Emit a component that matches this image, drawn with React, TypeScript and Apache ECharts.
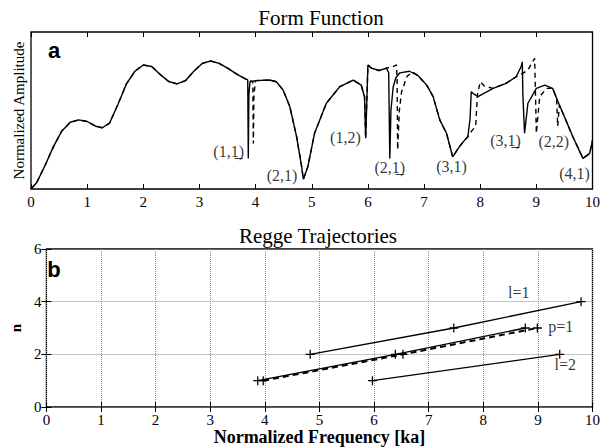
import React, { useEffect, useRef } from "react";
import * as echarts from "echarts";

// ---- Panel a: Form Function (solid = exact, dashed = approximation) ----
const solidX = [0, 0.1, 0.25, 0.4, 0.55, 0.7, 0.85, 1.0, 1.15, 1.27, 1.4, 1.55, 1.7, 1.85, 2.0, 2.15, 2.3, 2.45, 2.6, 2.75, 2.9, 3.05, 3.2, 3.35, 3.5, 3.65, 3.8, 3.86, 3.87, 3.88, 3.9, 4.0, 4.25, 4.37, 4.49, 4.61, 4.73, 4.82, 4.85, 4.93, 5.05, 5.26, 5.5, 5.74, 5.88, 5.94, 5.96, 5.98, 6.0, 6.06, 6.2, 6.33, 6.37, 6.39, 6.41, 6.45, 6.5, 6.57, 6.74, 6.9, 7.05, 7.16, 7.28, 7.4, 7.51, 7.63, 7.72, 7.78, 7.82, 7.84, 7.87, 7.96, 8.23, 8.46, 8.64, 8.73, 8.75, 8.76, 8.79, 8.85, 9.0, 9.15, 9.29, 9.41, 9.5, 9.65, 9.83, 9.95, 10];
const solidY = [0, 0.04, 0.15, 0.27, 0.37, 0.425, 0.44, 0.43, 0.4, 0.39, 0.42, 0.54, 0.67, 0.75, 0.79, 0.78, 0.73, 0.685, 0.67, 0.69, 0.75, 0.8, 0.815, 0.8, 0.77, 0.735, 0.705, 0.695, 0.195, 0.6, 0.683, 0.69, 0.694, 0.683, 0.63, 0.524, 0.333, 0.142, 0.062, 0.142, 0.355, 0.546, 0.652, 0.694, 0.662, 0.588, 0.323, 0.55, 0.79, 0.77, 0.755, 0.77, 0.74, 0.195, 0.5, 0.65, 0.71, 0.74, 0.75, 0.72, 0.66, 0.59, 0.44, 0.355, 0.205, 0.27, 0.31, 0.333, 0.45, 0.62, 0.61, 0.588, 0.641, 0.673, 0.715, 0.78, 0.81, 0.6, 0.355, 0.546, 0.641, 0.662, 0.641, 0.535, 0.46, 0.333, 0.195, 0.227, 0.31];

const dashedX = [0, 0.1, 0.25, 0.4, 0.55, 0.7, 0.85, 1.0, 1.15, 1.27, 1.4, 1.55, 1.7, 1.85, 2.0, 2.15, 2.3, 2.45, 2.6, 2.75, 2.9, 3.05, 3.2, 3.35, 3.5, 3.65, 3.8, 3.9, 3.95, 3.96, 3.97, 4.0, 4.25, 4.37, 4.49, 4.61, 4.73, 4.82, 4.85, 4.93, 5.05, 5.26, 5.5, 5.74, 5.88, 5.94, 5.96, 5.98, 6.0, 6.06, 6.2, 6.33, 6.45, 6.51, 6.52, 6.53, 6.56, 6.6, 6.7, 6.8, 6.9, 7.05, 7.16, 7.28, 7.4, 7.51, 7.63, 7.72, 7.78, 7.85, 7.92, 7.95, 8.0, 8.08, 8.23, 8.46, 8.64, 8.76, 8.85, 8.97, 9.0, 9.06, 9.18, 9.29, 9.36, 9.38, 9.41, 9.5, 9.65, 9.83, 9.95, 10];
const dashedY = [0, 0.04, 0.15, 0.27, 0.37, 0.425, 0.44, 0.43, 0.4, 0.39, 0.42, 0.54, 0.67, 0.75, 0.79, 0.78, 0.73, 0.685, 0.67, 0.69, 0.75, 0.8, 0.815, 0.8, 0.77, 0.735, 0.705, 0.688, 0.685, 0.29, 0.6, 0.69, 0.694, 0.683, 0.63, 0.524, 0.333, 0.142, 0.062, 0.142, 0.355, 0.546, 0.652, 0.694, 0.662, 0.588, 0.323, 0.55, 0.79, 0.77, 0.755, 0.77, 0.78, 0.79, 0.7, 0.25, 0.5, 0.62, 0.72, 0.745, 0.72, 0.66, 0.59, 0.44, 0.355, 0.205, 0.27, 0.31, 0.333, 0.37, 0.4, 0.6, 0.683, 0.655, 0.641, 0.673, 0.715, 0.737, 0.758, 0.832, 0.355, 0.588, 0.641, 0.641, 0.58, 0.4, 0.535, 0.46, 0.333, 0.195, 0.227, 0.31];

const resonanceLabels = ["(1,1\u0332)", "(2,1)", "(1,2)", "(2,1\u0332)", "(3,1)", "(3,1\u0332)", "(2,2)", "(4,1)"];
const resonanceLabelX = [3.52, 4.47, 5.6, 6.39, 7.49, 8.45, 9.31, 9.68];
const resonanceLabelY = [0.236, 0.089, 0.325, 0.134, 0.146, 0.312, 0.3, 0.1];

// ---- Panel b: Regge Trajectories ----
const l1X = [4.83, 7.46, 9.79];
const l1N = [2, 3, 4];
const l2X = [5.97, 9.4];
const l2N = [1, 2];
const p1SolidX = [3.87, 6.39, 8.77];
const p1SolidN = [1, 2, 3];
const p1DashedX = [3.97, 6.53, 8.99];
const p1DashedN = [1, 2, 3];

const trajLabels = ["l=1", "p=1", "l=2"];
const trajLabelX = [8.65, 9.42, 9.5];
const trajLabelY = [4.33, 3.04, 1.63];

const nTicks = [0, 2, 4, 6];

const SERIF = "Liberation Serif, Times New Roman, serif";
const PLUS = "path://M0,4.3H10V5.7H0Z M4.3,0H5.7V10H4.3Z";

const pairs = (xs: number[], ys: number[]) => xs.map((x, i) => [x, ys[i]]);

export default function App() {
  const ref = useRef<HTMLDivElement>(null);
  useEffect(() => {
    document.body.style.margin = "0";
    const chart = echarts.init(ref.current!, null, { renderer: "svg" });
    const tickLabel = { show: true, color: "#000", fontSize: 15, fontFamily: SERIF, margin: 5 };
    const inTick = { show: true, inside: true, length: 5, lineStyle: { color: "#000", width: 1 } };
    const dotted = { show: true, lineStyle: { type: "dotted" as const, color: "#8a8a8a", width: 1 } };
    const labelSeries = (xi: number, yi: number, names: string[], xs: number[], ys: number[]) => ({
      type: "scatter",
      xAxisIndex: xi,
      yAxisIndex: yi,
      symbolSize: 0,
      itemStyle: { color: "#000" },
      silent: true,
      z: 5,
      data: names.map((n, i) => ({ name: n, value: [xs[i], ys[i]] })),
      label: {
        show: true,
        position: "inside",
        formatter: (p: any) => p.name,
        color: "#000",
        textBorderWidth: 0,
        fontSize: 16,
        fontFamily: SERIF,
      },
    });
    const titleStyle = { fontFamily: SERIF, fontSize: 21, fontWeight: "normal", color: "#000" };
    chart.setOption({
      animation: false,
      backgroundColor: "#fff",
      title: [
        { text: "Form Function", left: 316, top: 2, textAlign: "center", textStyle: titleStyle },
        { text: "Regge Trajectories", left: 313, top: 220, textAlign: "center", textStyle: titleStyle },
      ],
      grid: [
        { left: 31, top: 32, width: 562, height: 157, show: true, borderColor: "#000", borderWidth: 1.3, backgroundColor: "transparent" },
        { left: 31, top: 249, width: 562, height: 158, show: true, borderColor: "#000", borderWidth: 1.3, backgroundColor: "transparent" },
      ],
      xAxis: [
        { gridIndex: 0, type: "value", min: 0, max: 10, interval: 1, axisLine: { show: false }, axisTick: inTick, axisLabel: tickLabel, splitLine: { show: false } },
        { gridIndex: 0, type: "value", position: "top", min: 0, max: 10, interval: 1, axisLine: { show: false }, axisTick: inTick, axisLabel: { show: false }, splitLine: { show: false } },
        {
          gridIndex: 1, type: "value", min: 0, max: 10, interval: 1, axisLine: { show: false }, axisTick: inTick, axisLabel: tickLabel, splitLine: dotted,
          name: "Normalized Frequency [ka]", nameLocation: "middle", nameGap: 20,
          nameTextStyle: { fontFamily: SERIF, fontSize: 18, fontWeight: "bold", color: "#000" },
        },
        { gridIndex: 1, type: "value", position: "top", min: 0, max: 10, interval: 1, axisLine: { show: false }, axisTick: inTick, axisLabel: { show: false }, splitLine: { show: false } },
      ],
      yAxis: [
        {
          gridIndex: 0, type: "value", min: 0, max: 1, axisLine: { show: false }, axisTick: { show: false }, axisLabel: { show: false }, splitLine: { show: false },
          name: "Normalized Amplitude", nameLocation: "middle", nameGap: 5,
          nameTextStyle: { fontFamily: SERIF, fontSize: 15, color: "#000" },
        },
        {
          gridIndex: 1, type: "value", min: 0, max: 6, interval: 2, axisLine: { show: false }, axisTick: inTick,
          axisLabel: { ...tickLabel, margin: 5, formatter: (v: number) => (nTicks.includes(v) ? String(v) : "") },
          splitLine: dotted,
          name: "n", nameLocation: "middle", nameGap: 17,
          nameTextStyle: { fontFamily: SERIF, fontSize: 15, fontWeight: "bold", color: "#000" },
        },
        { gridIndex: 1, type: "value", position: "right", min: 0, max: 6, interval: 2, axisLine: { show: false }, axisTick: inTick, axisLabel: { show: false }, splitLine: { show: false } },
      ],
      graphic: [
        { type: "text", x: 54, y: 50, style: { text: "a", font: "bold 22px Liberation Sans, Arial, sans-serif", fill: "#000", align: "center", verticalAlign: "middle" } },
        { type: "text", x: 54, y: 269, style: { text: "b", font: "bold 22px Liberation Sans, Arial, sans-serif", fill: "#000", align: "center", verticalAlign: "middle" } },
      ],
      series: [
        { type: "line", xAxisIndex: 0, yAxisIndex: 0, data: pairs(dashedX, dashedY), showSymbol: false, lineStyle: { color: "#000", width: 1.4, type: [5, 4] }, z: 2 },
        { type: "line", xAxisIndex: 0, yAxisIndex: 0, data: pairs(solidX, solidY), showSymbol: false, lineStyle: { color: "#000", width: 1.4 }, z: 3 },
        labelSeries(0, 0, resonanceLabels, resonanceLabelX, resonanceLabelY),
        { type: "line", xAxisIndex: 2, yAxisIndex: 1, data: pairs(l1X, l1N), symbol: PLUS, symbolSize: 9, itemStyle: { color: "#000" }, lineStyle: { color: "#000", width: 1.3 } },
        { type: "line", xAxisIndex: 2, yAxisIndex: 1, data: pairs(l2X, l2N), symbol: PLUS, symbolSize: 9, itemStyle: { color: "#000" }, lineStyle: { color: "#000", width: 1.3 } },
        { type: "line", xAxisIndex: 2, yAxisIndex: 1, data: pairs(p1SolidX, p1SolidN), symbol: PLUS, symbolSize: 9, itemStyle: { color: "#000" }, lineStyle: { color: "#000", width: 1.3 } },
        { type: "line", xAxisIndex: 2, yAxisIndex: 1, data: pairs(p1DashedX, p1DashedN), symbol: PLUS, symbolSize: 9, itemStyle: { color: "#000" }, lineStyle: { color: "#000", width: 2, type: [6, 4] } },
        labelSeries(2, 1, trajLabels, trajLabelX, trajLabelY),
      ],
    });
    return () => chart.dispose();
  }, []);
  return <div ref={ref} style={{ width: 603, height: 447 }} />;
}
